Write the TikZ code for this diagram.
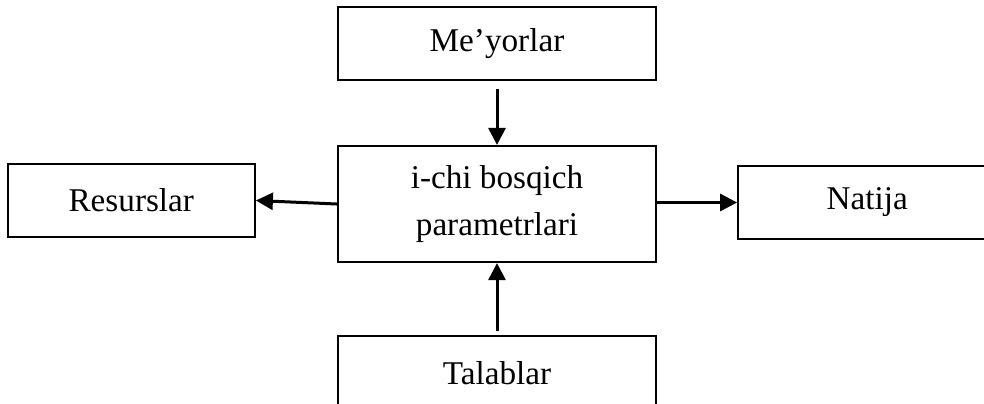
\documentclass[tikz,border=0pt]{standalone}
\usepackage{fontspec}
\setmainfont{Liberation Serif}
\usetikzlibrary{positioning,arrows.meta}
\tikzset{
  blok/.style={draw, line width=1.1pt, inner sep=0pt, minimum width=159pt,
    minimum height=36.5pt, font=\fontsize{16.6}{23.5}\selectfont, align=center},
  strelka/.style={line width=1.5pt, -{Triangle[length=8.5pt,width=8.5pt]}}
}
\begin{document}
\begin{tikzpicture}[x=0.5pt,y=-0.5pt]
      \clip (0,0) rectangle (984,403);
      \node[blok, minimum height=58pt] (1) at (497,204) {i-chi bosqich\\parametrlari};
      \node[blok, above=32pt of 1] (2) {Me’yorlar};
      \node[blok, left=40.5pt of 1, yshift=1.75pt, minimum width=123.5pt] (3) {Resurslar};
      \node[blok, right=40pt of 1, yshift=0.75pt, minimum width=129pt] (4) {Natija};
      \node[blok, below=36pt of 1] (5) {Talablar};

      \draw[strelka] ([yshift=-4pt]2.south) -- (1.north);
      \draw[strelka] (1.west) -- (3.east);
      \draw[strelka] (1.east |- 4.west) -- (4.west);
      \draw[strelka] ([yshift=2pt]5.north) -- (1.south);
\end{tikzpicture}
\end{document}
